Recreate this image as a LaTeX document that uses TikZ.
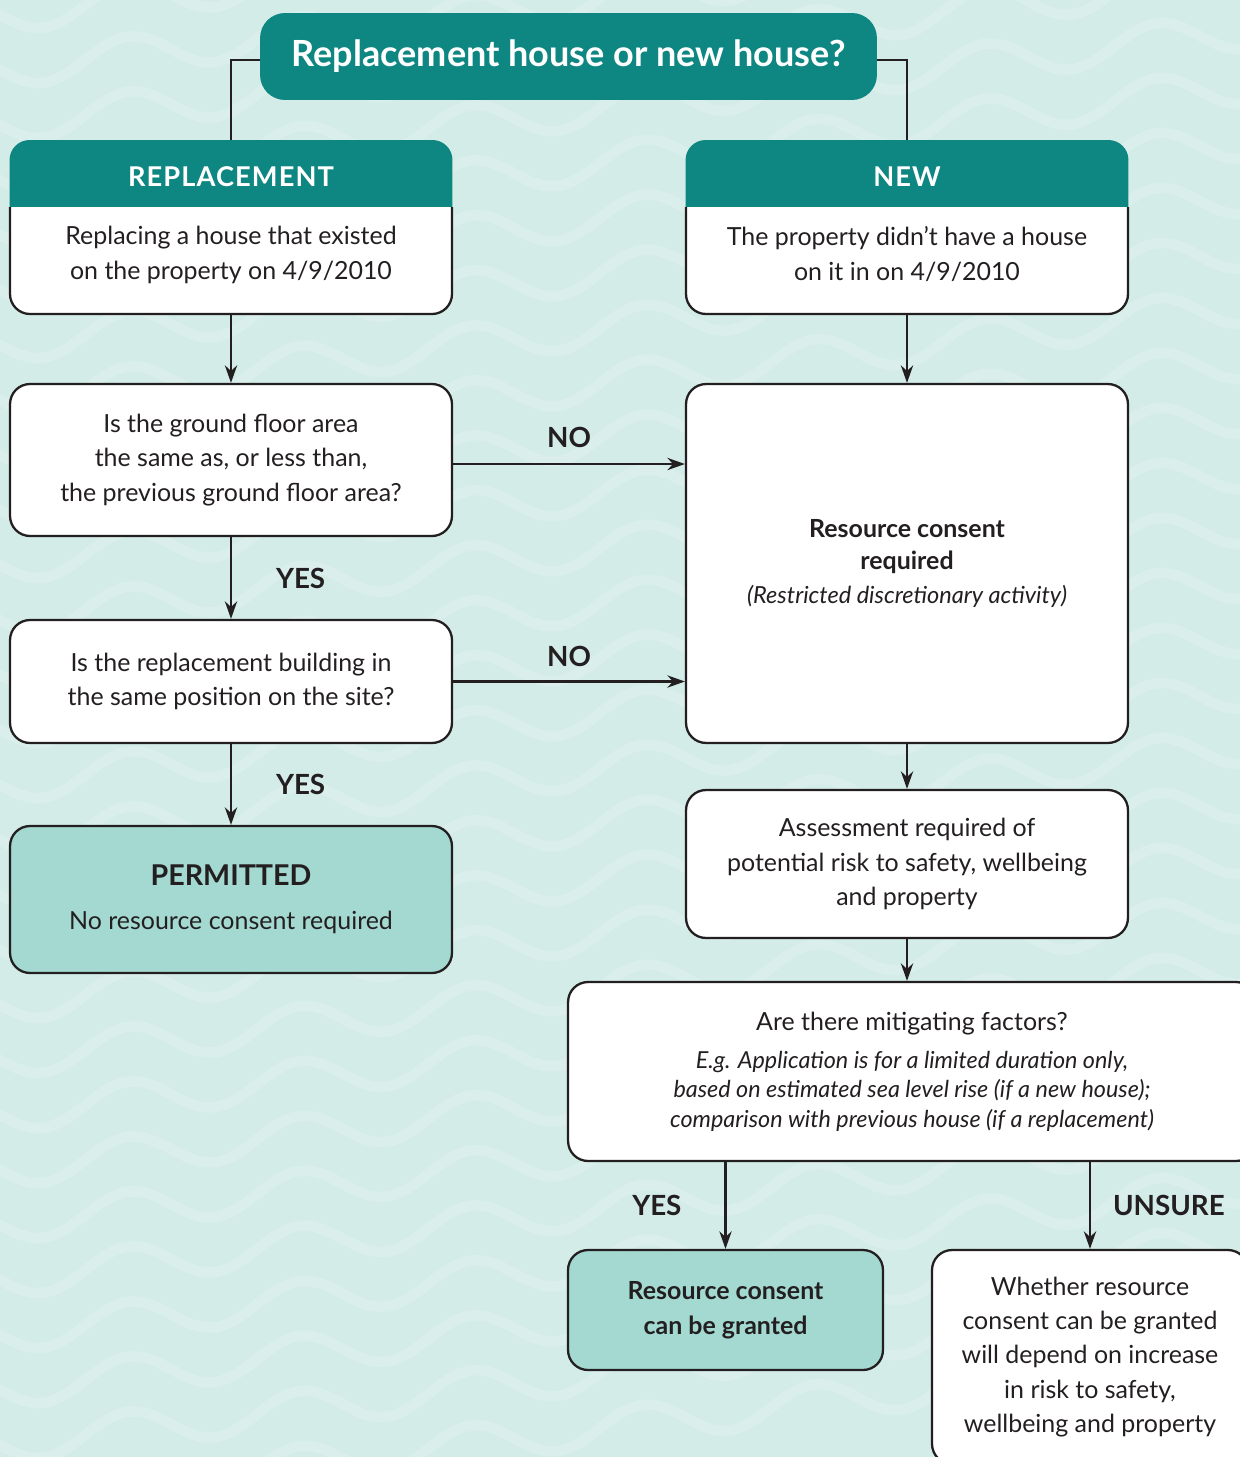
\documentclass[tikz,border=0pt]{standalone}
\usepackage{fontspec}
\setmainfont{Lato}
\usetikzlibrary{arrows.meta}

\definecolor{bgteal}{HTML}{D3ECE7}
\definecolor{wavelight}{HTML}{DAEFEB}
\definecolor{headteal}{HTML}{0E8682}
\definecolor{paleteal}{HTML}{A3D9D1}
\definecolor{ink}{HTML}{231F20}

\newcommand\bodyfont{\fontsize{14.2}{19.6}\selectfont}
\newcommand\notefont{\fontsize{13.3}{16.8}\selectfont\itshape}

\begin{document}
\begin{tikzpicture}[
        x=0.02cm, y=-0.02cm,
        box/.style={
            rectangle,
            rounded corners=0.4cm,
            draw=ink,
            line width=1.3pt,
            fill=white,
            text=ink,
            align=center,
            font=\bodyfont,
            inner sep=0pt,
            minimum width=8.84cm
        },
        headbox/.style={
            rectangle,
            rounded corners=0.4cm,
            fill=headteal,
            inner sep=0pt,
            minimum width=8.86cm,
            minimum height=3.48cm
        },
        headtext/.style={
            text=white,
            font=\fontsize{15.5}{18}\selectfont\bfseries\addfontfeatures{LetterSpace=4}
        },
        relation/.style={
            -{Stealth[length=10pt,width=7pt]},
            draw=ink,
            line width=1.2pt
        },
        choice/.style={
            text=ink,
            inner sep=0pt,
            font=\fontsize{15.8}{18}\selectfont\bfseries
        }
    ]

    % page and background waves
    \useasboundingbox (0,0) rectangle (1240,1457);
    \clip (0,0) rectangle (1240,1457);
    \fill[bgteal] (0,0) rectangle (1240,1457);
    \foreach \row in {-40,15,...,1500}
        \draw[wavelight, line width=6pt]
            plot[domain=-40:1300, samples=90, smooth] (\x, {\row - 0.12*\x + 18*sin(2.1*\x)});

    % question at the top
    \node[rectangle, rounded corners=0.5cm, fill=headteal, minimum width=12.34cm,
          minimum height=1.74cm, text=white, font=\fontsize{20.5}{24}\selectfont\bfseries]
          (title) at (568.5,56.5) {Replacement house or new house?};

    % the two branches
    \node[headbox] (repl) at (231,227) {};
    \node[headbox] (new) at (907,227) {};
    \draw[draw=ink, line width=1.3pt, fill=white, rounded corners=0.4cm]
        (10,207) -- (10,314) -- (452,314) -- (452,207);
    \draw[draw=ink, line width=1.3pt, fill=white, rounded corners=0.4cm]
        (686,207) -- (686,314) -- (1128,314) -- (1128,207);
    \node[headtext] (repltitle) at (231,177) {REPLACEMENT};
    \node[headtext] (newtitle) at (907,177) {NEW};
    \node[text=ink, align=center, font=\bodyfont] (repltext) at (231,255)
        {Replacing a house that existed\\on the property on 4/9/2010};
    \node[text=ink, align=center, font=\bodyfont] (newtext) at (907,254)
        {The property didn’t have a house\\on it in on 4/9/2010};

    \draw[draw=ink, line width=1.2pt] ([yshift=-0.07cm]title.west) -| (repl.north);
    \draw[draw=ink, line width=1.2pt] ([yshift=-0.07cm]title.east) -| (new.north);

    % left column
    \node[box, minimum height=3.04cm] (area) at (231,460)
        {Is the ground floor area\\the same as, or less than,\\the previous ground floor area?};
    \node[box, minimum height=2.46cm] (position) at (231,681.5)
        {Is the replacement building in\\the same position on the site?};
    \node[box, fill=paleteal, minimum height=2.94cm] (permit) at (231,899.5)
        {\textbf{\fontsize{16.3}{18}\selectfont PERMITTED}\\[0.2cm]No resource consent required};

    % right column
    \node[box, minimum height=7.18cm] (consent) at (907,563.5)
        {\textbf{Resource consent}\\[-0.05cm]\textbf{required}\\\textit{\fontsize{13.4}{16}\selectfont (Restricted discretionary activity)}};
    \node[box, minimum height=2.96cm] (assess) at (907,864)
        {Assessment required of\\potential risk to safety, wellbeing\\and property};
    \node[box, minimum width=13.76cm, minimum height=3.58cm] (mitig) at (912,1071.5)
        {Are there mitigating factors?\\[0.07cm]\textit{\notefont E.g. Application is for a limited duration only,}\\[-0.1cm]\textit{\notefont based on estimated sea level rise (if a new house);}\\[-0.1cm]\textit{\notefont comparison with previous house (if a replacement)}};
    \node[box, fill=paleteal, minimum width=6.3cm, minimum height=2.4cm,
          font=\bodyfont\bfseries] (granted) at (725.5,1310)
        {Resource consent\\can be granted};
    \node[box, minimum width=6.32cm, minimum height=4.28cm] (depend) at (1090,1357)
        {Whether resource\\consent can be granted\\will depend on increase\\in risk to safety,\\wellbeing and property};

    % connectors
    \draw[relation] (repl) -- (area);
    \draw[relation] (area) -- node[choice, midway, right=0.88cm] (yesone) {YES} (position);
    \draw[relation] (position) -- node[choice, midway, right=0.88cm] (yestwo) {YES} (permit);
    \draw[relation] ([yshift=-0.08cm]area.east) -- node[choice, midway, above=0.3cm] (noone) {NO}
        ([yshift=-0.08cm]area.east -| consent.west);
    \draw[relation] (position.east) -- node[choice, midway, above=0.28cm] (notwo) {NO}
        (position.east -| consent.west);
    \draw[relation] (new) -- (consent);
    \draw[relation] (consent) -- (assess);
    \draw[relation] (assess.south) -- (assess.south |- mitig.north);
    \draw[relation] (mitig.south -| granted.north) -- node[choice, midway, left=0.86cm] (yesthree) {YES} (granted.north);
    \draw[relation] (mitig.south -| depend.north) -- node[choice, midway, right=0.44cm] (unsure) {UNSURE} (depend.north);

\end{tikzpicture}
\end{document}
